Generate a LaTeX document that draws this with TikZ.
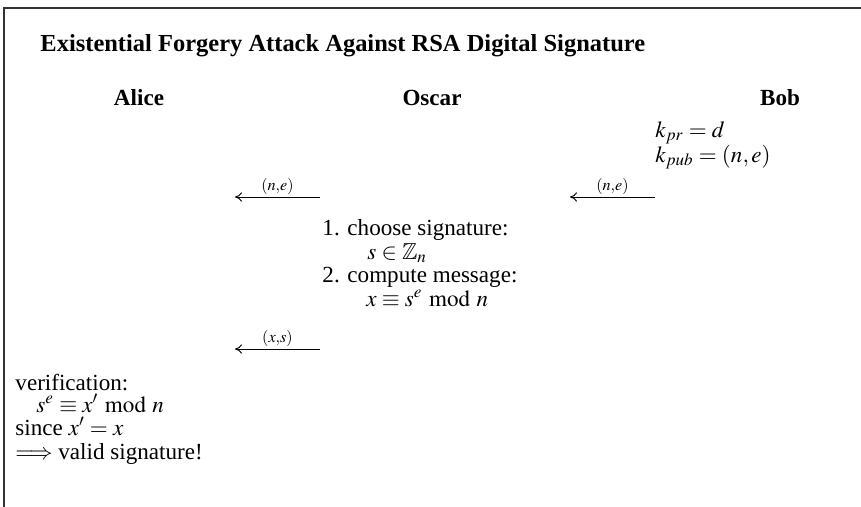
\documentclass[tikz,border=0pt]{standalone}
\usepackage{mathptmx}
\usepackage{amssymb}
\usepackage{fontspec}
\setmainfont{Liberation Serif}
\usepackage{tikz}
\usetikzlibrary{arrows.meta, positioning}
\tikzset{
	titletext/.style={
			anchor=base west,
			inner sep=0pt,
			font=\fontsize{10.6}{12}\selectfont\bfseries
		},
	partynode/.style={
			anchor=base,
			inner sep=0pt,
			font=\bfseries
		},
	linetext/.style={
			anchor=base west,
			inner sep=0pt
		},
	msgarrow/.style={
			-{To[length=3pt,width=4pt]},
			line width=0.4pt
		},
	msglabel/.style={
			above=1pt,
			inner sep=0pt,
			font=\scriptsize
		},
	frameline/.style={
			line width=0.9pt,
			draw=black!80
		}
}

\begin{document}
\begin{tikzpicture}[x=0.433pt, y=-0.433pt]

    \useasboundingbox (0,0) rectangle (861,507);
    \draw[frameline] (4,507) -- (4,8) -- (861,8);

    \node[titletext] (title) at (40,51) {Existential Forgery Attack Against RSA Digital Signature};

    \node[partynode] (alice) at (139,105) {Alice};
    \node[partynode] (oscar) at (432,105) {Oscar};
    \node[partynode] (bob) at (780,105) {Bob};

    % Bob's keys
    \node[linetext] (kpr) at (655,137) {$k_{pr} = d$};
    \node[linetext] (kpub) at (655,162) {$k_{pub} = (n,e)$};

    % public key passes Oscar
    \coordinate (b1) at (655,197);
    \coordinate (o1) at (570,197);
    \coordinate (o2) at (320,197);
    \coordinate (a1) at (235,197);
    \draw[msgarrow] (b1) -- node[msglabel] {$(n{,}e)$} (o1);
    \draw[msgarrow] (o2) -- node[msglabel] {$(n{,}e)$} (a1);

    % Oscar's steps
    \node[linetext] (step1) at (322,235) {1. choose signature:};
    \node[linetext] (choose) at (367,259) {$s \in \mathbb{Z}_n$};
    \node[linetext] (step2) at (322,282) {2. compute message:};
    \node[linetext] (compute) at (366,306) {$x \equiv s^e \bmod n$};

    \coordinate (o3) at (320,349);
    \coordinate (a2) at (235,349);
    \draw[msgarrow] (o3) -- node[msglabel] {$(x{,}s)$} (a2);

    % Alice verifies
    \node[linetext] (verif) at (15,390) {verification:};
    \node[linetext] (check) at (36,412) {$s^e \equiv x' \bmod n$};
    \node[linetext] (since) at (15,435) {since $x' = x$};
    \node[linetext] (valid) at (15,459) {$\Longrightarrow$ valid signature!};

\end{tikzpicture}
\end{document}
